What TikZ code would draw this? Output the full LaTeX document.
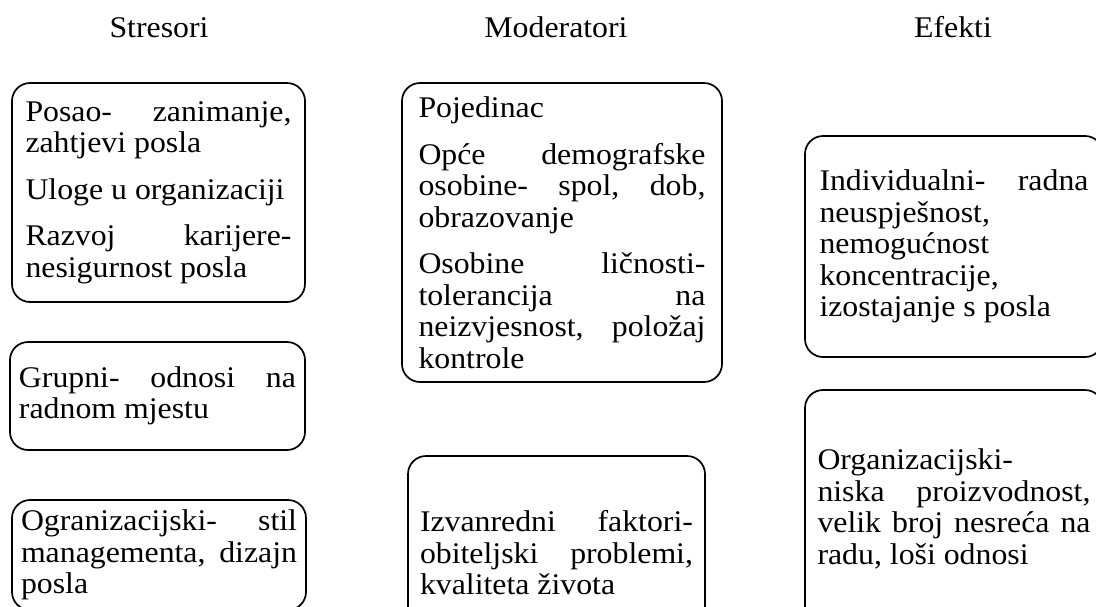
\documentclass[tikz,border=0pt]{standalone}
\usepackage{fontspec}
\setmainfont{Liberation Serif}[FakeStretch=1.06]
\newcommand\JL[1]{\hbox to\hsize{#1}}
\newcommand\LL[1]{\hbox to\hsize{#1\hfil}}
\newcommand\PG{\vskip15pt}
\begin{document}
\begin{tikzpicture}[x=1pt,y=-1pt,
  every node/.style={font=\fontsize{30}{31.5}\selectfont\frenchspacing},
  box/.style={draw, line width=1.7pt, rounded corners=18pt, inner sep=0pt},
  head/.style={anchor=base, inner sep=0pt}]
\useasboundingbox (0,0) rectangle (1096,606);

\node[head] (hS) at (159,37) {Stresori};
\node[head] (hM) at (556,37) {Moderatori};
\node[head] (hE) at (953,37) {Efekti};

\node[box, minimum width=293pt, minimum height=219pt] (s1) at (158.5,192.5)
  {\vbox{\hsize=266pt
   \JL{Posao- zanimanje,}\LL{zahtjevi posla}\PG
   \LL{Uloge u organizaciji}\PG
   \JL{Razvoj karijere-}\LL{nesigurnost posla}}};

\node[box, minimum width=295pt, minimum height=108pt] (s2) at (157.5,396)
  {\vbox{\hsize=277pt
   \JL{Grupni- odnosi na}\LL{radnom mjestu}}};

\node[box, minimum width=294pt, minimum height=110pt] (s3) at (159,555)
  {\vbox{\hsize=276pt
   \JL{Ogranizacijski- stil}\JL{managementa, dizajn}\LL{posla}}};

\node[box, minimum width=320pt, minimum height=299pt] (m1) at (562,232.5)
  {\vbox{\hsize=287pt
   \LL{Pojedinac}\PG
   \JL{Opće demografske}\JL{osobine- spol, dob,}\LL{obrazovanje}\PG
   \JL{Osobine ličnosti-}\JL{tolerancija na}\JL{neizvjesnost, položaj}\LL{kontrole}}};

\node[box, minimum width=297pt, minimum height=194pt] (m2) at (556.5,553)
  {\vbox{\hsize=273pt
   \JL{Izvanredni faktori-}\JL{obiteljski problemi,}\LL{kvaliteta života}}};

\node[box, minimum width=298pt, minimum height=221pt] (e1) at (954,246.5)
  {\vbox{\hsize=269pt
   \JL{Individualni- radna}\LL{neuspješnost,}\LL{nemogućnost}\LL{koncentracije,}\LL{izostajanje s posla}}};

\node[box, minimum width=298pt, minimum height=238pt] (e2) at (954,509)
  {\vbox{\hsize=273pt
   \LL{Organizacijski-}\JL{niska proizvodnost,}\JL{velik broj nesreća na}\LL{radu, loši odnosi}}};
\end{tikzpicture}
\end{document}
